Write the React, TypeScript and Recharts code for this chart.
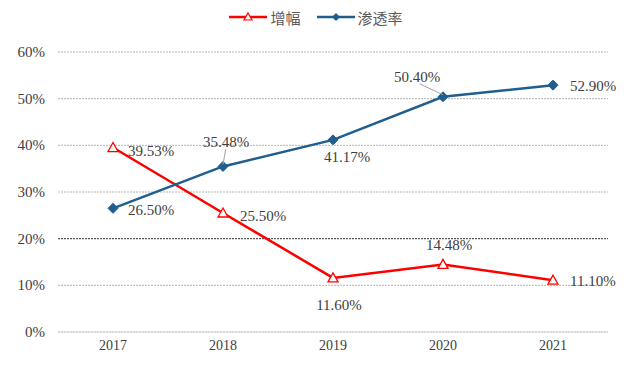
import { LineChart, Line, XAxis, YAxis, CartesianGrid, Legend, LabelList, ReferenceLine } from 'recharts';

const years = ['2017', '2018', '2019', '2020', '2021'];
const growth = [39.53, 25.5, 11.6, 14.48, 11.1];
const penetration = [26.5, 35.48, 41.17, 50.4, 52.9];
const yTicks = [0, 10, 20, 30, 40, 50, 60];

const data = years.map((year, i) => ({ year, growth: growth[i], penetration: penetration[i] }));

const RED = '#FF0000';
const BLUE = '#1F5E8E';
const TEXT = '#404040';
const SERIF = '"Liberation Serif", "Times New Roman", serif';

// where each point's value label sits, relative to the point
type Place = { dx: number; dy: number; anchor: 'start' | 'middle' | 'end'; leader?: boolean };
const growthPlaces: Place[] = [
  { dx: 15, dy: 3, anchor: 'start' },
  { dx: 17, dy: 3, anchor: 'start' },
  { dx: 6, dy: 27, anchor: 'middle' },
  { dx: 6, dy: -19, anchor: 'middle' },
  { dx: 17, dy: 1, anchor: 'start' },
];
const penetrationPlaces: Place[] = [
  { dx: 15, dy: 2, anchor: 'start' },
  { dx: 3, dy: -24, anchor: 'middle', leader: true },
  { dx: 14, dy: 17, anchor: 'middle' },
  { dx: -26, dy: -20, anchor: 'middle', leader: true },
  { dx: 17, dy: 1, anchor: 'start' },
];

const makeLabel = (places: Place[]) => (props: any) => {
  const { x, y, value, index } = props;
  const p = places[index];
  if (!p) return null;
  return (
    <g>
      {p.leader && (
        <line
          x1={x + p.dx * 0.9}
          y1={y + p.dy + 7}
          x2={x}
          y2={y - 2}
          stroke="#a0a0a0"
          strokeWidth={1}
        />
      )}
      <text
        x={x + p.dx}
        y={y + p.dy}
        textAnchor={p.anchor}
        dominantBaseline="central"
        fontFamily={SERIF}
        fontSize={15}
        fill={TEXT}
      >
        {Number(value).toFixed(2)}%
      </text>
    </g>
  );
};

const XTick = (props: any) => {
  const { x, y, payload } = props;
  return (
    <text x={x} y={y + 10} textAnchor="middle" fontFamily={SERIF} fontSize={14} fill={TEXT}>
      {payload.value}
    </text>
  );
};

const YTick = (props: any) => {
  const { x, y, payload } = props;
  return (
    <text x={x} y={y} textAnchor="end" dominantBaseline="central" fontFamily={SERIF} fontSize={15} fill={TEXT}>
      {payload.value}%
    </text>
  );
};

const Triangle = (props: any) => {
  const { cx, cy } = props;
  if (cx == null || cy == null) return null;
  return <path d={`M${cx},${cy - 5} L${cx + 5},${cy + 4} L${cx - 5},${cy + 4} Z`} fill="#fff" stroke={RED} strokeWidth={1.3} />;
};

const Diamond = (props: any) => {
  const { cx, cy } = props;
  if (cx == null || cy == null) return null;
  return <path d={`M${cx},${cy - 5} L${cx + 5},${cy} L${cx},${cy + 5} L${cx - 5},${cy} Z`} fill={BLUE} stroke={BLUE} />;
};

const LegendContent = () => (
  <div style={{ display: 'flex', justifyContent: 'center', alignItems: 'center', gap: 16, height: 22, fontFamily: '"Noto Sans CJK SC", sans-serif', fontSize: 15, color: '#595959', paddingLeft: 8 }}>
    <div style={{ display: 'flex', alignItems: 'center', gap: 3 }}>
      <svg width={38} height={14}>
        <line x1={0} y1={7} x2={38} y2={7} stroke={RED} strokeWidth={2.5} />
        <path d="M19,3 L23,10 L15,10 Z" fill="#fff" stroke={RED} strokeWidth={1.2} />
      </svg>
      <span>增幅</span>
    </div>
    <div style={{ display: 'flex', alignItems: 'center', gap: 3 }}>
      <svg width={38} height={14}>
        <line x1={0} y1={7} x2={38} y2={7} stroke={BLUE} strokeWidth={2.5} />
        <path d="M19,3 L23,7 L19,11 L15,7 Z" fill={BLUE} />
      </svg>
      <span>渗透率</span>
    </div>
  </div>
);

export default function App() {
  return (
    <div style={{ position: 'absolute', left: 0, top: 0, width: 624, height: 366, background: '#fff' }}>
      <LineChart width={624} height={366} data={data} margin={{ top: 30, right: 16, bottom: 10, left: 0 }}>
        <CartesianGrid vertical={false} stroke="#b5b5b5" strokeDasharray="2 1" />
        <ReferenceLine y={20} stroke="#444" strokeDasharray="2 1" />
        <XAxis
          dataKey="year"
          height={24}
          padding={{ left: 55, right: 55 }}
          tickLine={false}
          axisLine={{ stroke: '#d9d9d9' }}
          tick={<XTick />}
        />
        <YAxis
          width={58}
          domain={[0, 60]}
          ticks={yTicks}
          axisLine={false}
          tickLine={false}
          tickMargin={7}
          tick={<YTick />}
        />
        <Legend verticalAlign="top" content={<LegendContent />} wrapperStyle={{ top: 6, left: 0, width: 624, height: 22 }} />
        <Line dataKey="growth" name="增幅" stroke={RED} strokeWidth={2.5} dot={<Triangle />} activeDot={false} isAnimationActive={false}>
          <LabelList dataKey="growth" content={makeLabel(growthPlaces)} />
        </Line>
        <Line dataKey="penetration" name="渗透率" stroke={BLUE} strokeWidth={2.5} dot={<Diamond />} activeDot={false} isAnimationActive={false}>
          <LabelList dataKey="penetration" content={makeLabel(penetrationPlaces)} />
        </Line>
      </LineChart>
    </div>
  );
}
